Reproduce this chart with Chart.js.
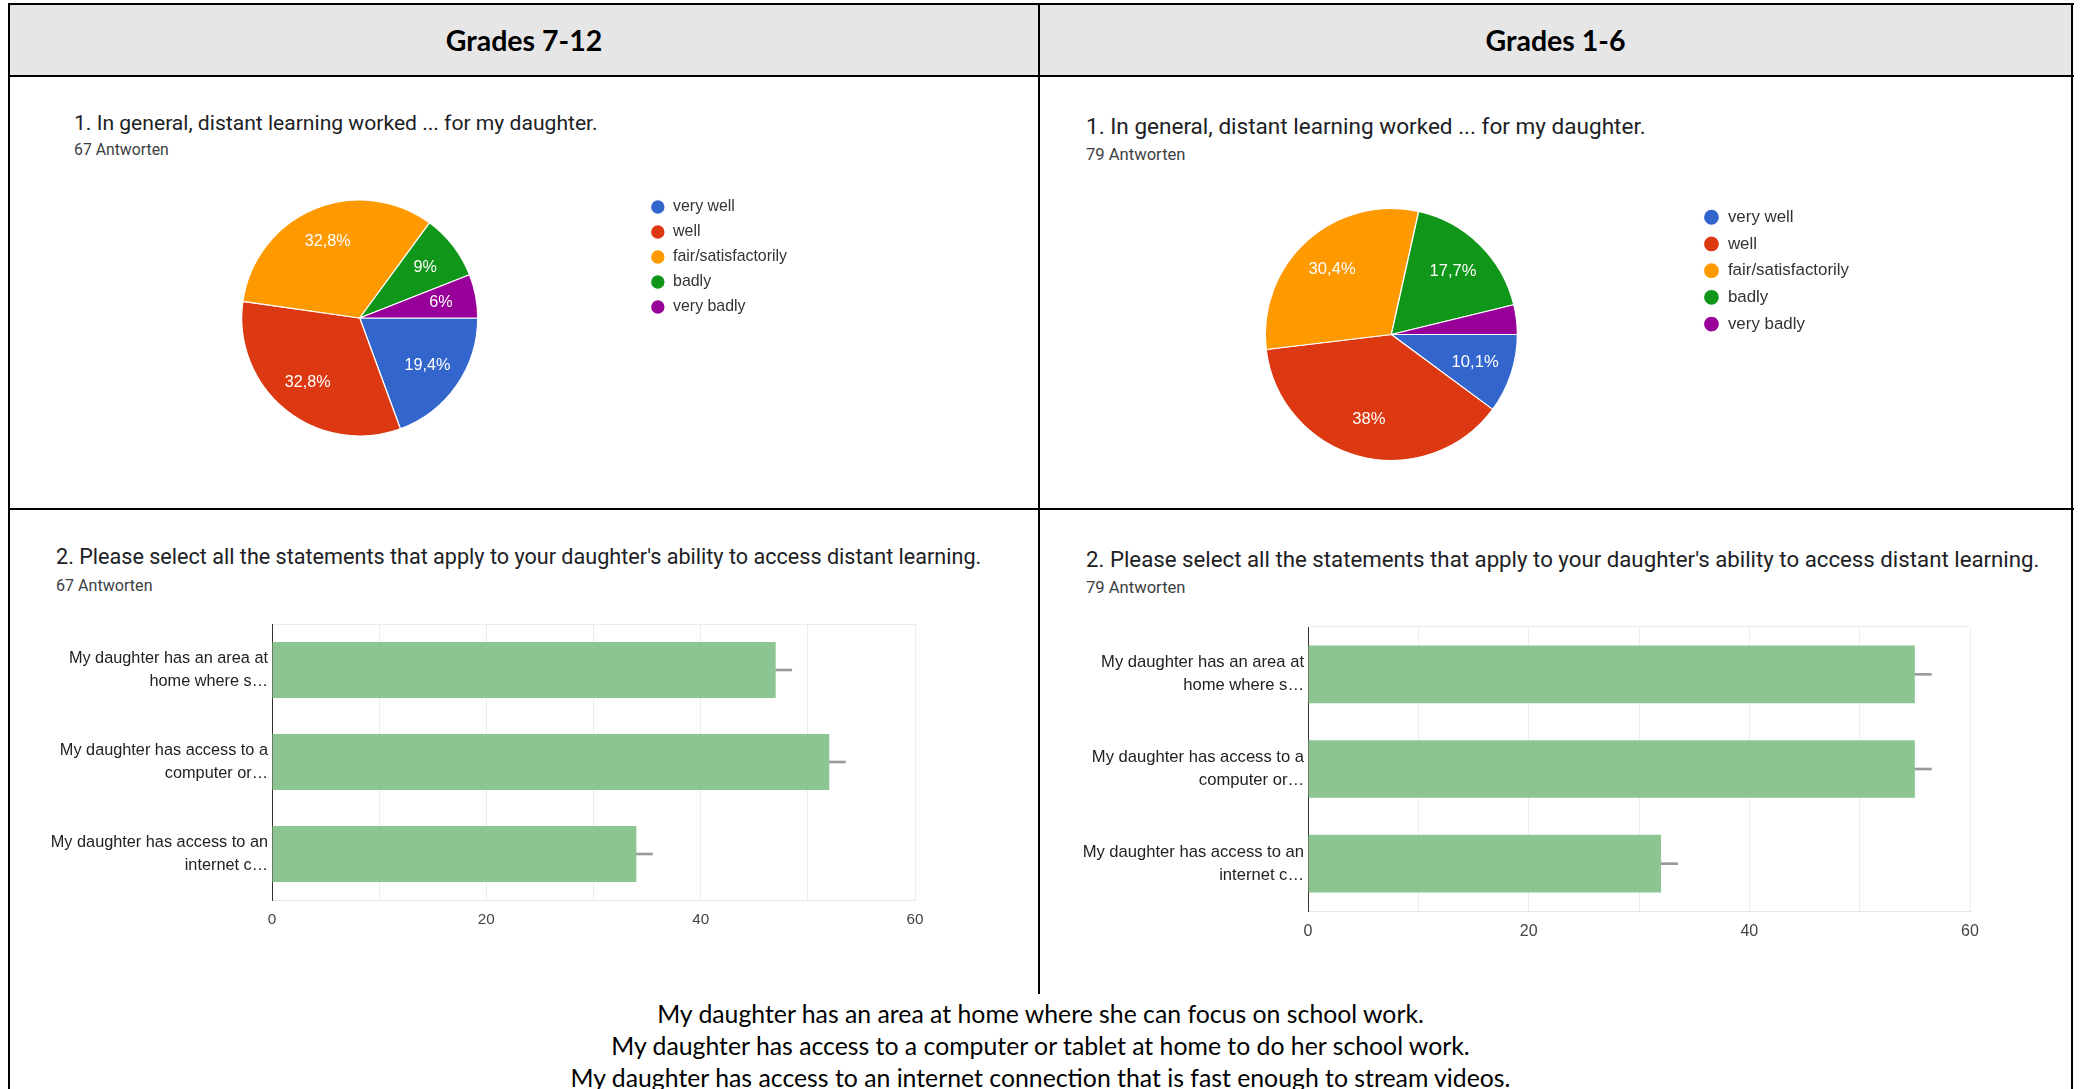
<!DOCTYPE html>
<html>
<head>
<meta charset="utf-8">
<script src="https://cdn.jsdelivr.net/npm/chart.js@4.4.1/dist/chart.umd.min.js"></script>
<style>
  body { margin: 0; background: #fff; }
  #page { position: relative; width: 2081px; height: 1089px; overflow: hidden; font-family: Roboto, sans-serif; }
  .line { position: absolute; background: #000; }
  .head { position: absolute; top: 5px; height: 70px; background: #e6e6e6; color: #000;
          font: bold 28.5px Lato, sans-serif; display: flex; align-items: center; justify-content: center; }
  .q { position: absolute; color: #202124; white-space: nowrap; line-height: 1; }
  .n { position: absolute; color: #3c4043; white-space: nowrap; line-height: 1; }
  .foot { position: absolute; left: 0; width: 2081px; text-align: center; font: 24.8px Lato, sans-serif; color: #000; line-height: 1; }
  canvas { position: absolute; }
</style>
</head>
<body>
<div id="page">
  <div class="head" style="left:10px; width:1028px;" id="headLeft"></div>
  <div class="head" style="left:1040px; width:1031px;" id="headRight"></div>

  <div class="line" style="left:8px; top:3px; width:2066px; height:2px;"></div>
  <div class="line" style="left:8px; top:3px; width:2px; height:1086px;"></div>
  <div class="line" style="left:2071px; top:3px; width:2px; height:1086px;"></div>
  <div class="line" style="left:8px; top:75px; width:2066px; height:2px;"></div>
  <div class="line" style="left:8px; top:508px; width:2066px; height:2px;"></div>
  <div class="line" style="left:1038px; top:3px; width:2px; height:991px;"></div>

  <div class="q" id="q1Left" style="left:74px; top:112px; font-size:21.1px;"></div>
  <div class="n" id="n1Left" style="left:74px; top:142px; font-size:15.8px;"></div>
  <div class="q" id="q1Right" style="left:1086px; top:116px; font-size:22.55px;"></div>
  <div class="n" id="n1Right" style="left:1086px; top:147px; font-size:16.6px;"></div>

  <div class="q" id="q2Left" style="left:56px; top:546px; font-size:21.6px;"></div>
  <div class="n" id="n2Left" style="left:56px; top:578px; font-size:16.1px;"></div>
  <div class="q" id="q2Right" style="left:1086px; top:548px; font-size:22.25px;"></div>
  <div class="n" id="n2Right" style="left:1086px; top:580px; font-size:16.6px;"></div>

  <canvas id="pieLeft"></canvas>
  <canvas id="pieRight"></canvas>
  <canvas id="barLeft"></canvas>
  <canvas id="barRight"></canvas>

  <div class="foot" id="foot0" style="top:1001.5px;"></div>
  <div class="foot" id="foot1" style="top:1033.5px;"></div>
  <div class="foot" id="foot2" style="top:1065.5px;"></div>
</div>

<script>
const groupTitles = ['Grades 7-12', 'Grades 1-6']
const question1 = '1. In general, distant learning worked ... for my daughter.'
const question2 = "2. Please select all the statements that apply to your daughter's ability to access distant learning."
const answerCounts = [67, 79] // senior, junior

const pieLabels = ['very well', 'well', 'fair/satisfactorily', 'badly', 'very badly']
const pieColors = ['#3366cc', '#dc3912', '#ff9900', '#109618', '#990099']
const pieSenior = [13, 22, 22, 6, 4]
const pieJunior = [8, 30, 24, 14, 3]

const barCategories = [
    ['My daughter has an area at', 'home where s…'],
    ['My daughter has access to a', 'computer or…'],
    ['My daughter has access to an', 'internet c…']
]
const barSenior = [47, 52, 34]
const barJunior = [55, 55, 32]
const whiskerValues = [1.5, 1.5, 1.5]
const xTicks = [0, 20, 40, 60]

const statements = [
    'My daughter has an area at home where she can focus on school work.',
    'My daughter has access to a computer or tablet at home to do her school work.',
    'My daughter has access to an internet connection that is fast enough to stream videos.'
]

document.getElementById('headLeft').textContent = groupTitles[0]
document.getElementById('headRight').textContent = groupTitles[1]
document.getElementById('q1Left').textContent = question1
document.getElementById('q1Right').textContent = question1
document.getElementById('q2Left').textContent = question2
document.getElementById('q2Right').textContent = question2
document.getElementById('n1Left').textContent = `${answerCounts[0]} Antworten`
document.getElementById('n2Left').textContent = `${answerCounts[0]} Antworten`
document.getElementById('n1Right').textContent = `${answerCounts[1]} Antworten`
document.getElementById('n2Right').textContent = `${answerCounts[1]} Antworten`
statements.forEach((s, i) => document.getElementById(`foot${i}`).textContent = s)

const chartFont = "'Liberation Sans', Arial, sans-serif"
Chart.defaults.font.family = chartFont
Chart.defaults.animation = false
Chart.defaults.events = []
Chart.defaults.plugins.tooltip.enabled = false

// percentage labels inside the slices (google hides the small ones)
const sliceLabels = {
    id: 'sliceLabels',
    afterDatasetsDraw(chart, args, opts) {
        const {ctx} = chart
        const values = chart.data.datasets[0].data
        const total = values.reduce((a, b) => a + b, 0)
        ctx.save()
        ctx.fillStyle = '#fff'
        ctx.font = `${opts.size}px ${chartFont}`
        ctx.textAlign = 'center'
        ctx.textBaseline = 'middle'
        chart.getDatasetMeta(0).data.forEach((arc, i) => {
            const pct = values[i] / total * 100
            if (pct < 5) return
            const p = arc.getProps(['x', 'y', 'startAngle', 'endAngle', 'outerRadius'])
            const mid = (p.startAngle + p.endAngle) / 2
            const r = p.outerRadius * 0.7
            const text = pct.toFixed(1).replace(/\.0$/, '').replace('.', ',') + '%'
            ctx.fillText(text, p.x + Math.cos(mid) * r, p.y + Math.sin(mid) * r)
        })
        ctx.restore()
    }
}

function makePie(id, counts, g) {
    const pad = g.gap - g.font
    const legendLeft = g.dotX - pad - g.dot / 2
    const top = g.dotY - pad - g.font / 2
    const left = 2 * g.cx - legendLeft

    const measure = document.createElement('canvas').getContext('2d')
    measure.font = `${g.font}px ${chartFont}`
    const textWidth = Math.max(...pieLabels.map(t => measure.measureText(t).width))
    const legendWidth = pad + g.dot + g.font / 2 + textWidth + 10

    const canvas = document.getElementById(id)
    canvas.width = Math.round(legendLeft + legendWidth - left)
    canvas.height = Math.round(2 * (g.cy - top))
    canvas.style.left = `${left}px`
    canvas.style.top = `${top}px`

    new Chart(canvas, {
        type: 'pie',
        data: {
            labels: pieLabels,
            datasets: [{
                data: counts,
                backgroundColor: pieColors,
                borderColor: '#fff',
                borderWidth: 1.2,
                radius: g.r
            }]
        },
        options: {
            responsive: false,
            rotation: 90,
            layout: { padding: 0 },
            plugins: {
                legend: {
                    position: 'right',
                    align: 'start',
                    labels: {
                        usePointStyle: true,
                        pointStyle: 'circle',
                        boxHeight: g.dot / Math.SQRT2,
                        pointStyleWidth: g.dot,
                        padding: pad,
                        color: '#333',
                        font: { size: g.font }
                    }
                },
                sliceLabels: { size: g.labelSize }
            }
        },
        plugins: [sliceLabels]
    })
}

function makeBar(id, values, g) {
    const canvas = document.getElementById(id)
    const padTop = 40
    const x0 = g.left - g.axisWidth
    const y0 = g.top - padTop
    canvas.width = g.right + 30 - x0
    canvas.height = g.bottom + 50 - y0
    canvas.style.left = `${x0}px`
    canvas.style.top = `${y0}px`

    new Chart(canvas, {
        type: 'bar',
        data: {
            labels: barCategories,
            datasets: [
                { data: values, backgroundColor: '#8cc591', barPercentage: 0.61, categoryPercentage: 1 },
                { data: whiskerValues, backgroundColor: '#9a9a9a', barThickness: 2 }
            ]
        },
        options: {
            indexAxis: 'y',
            responsive: false,
            layout: { padding: { top: padTop, right: 30, left: 0, bottom: 0 } },
            plugins: { legend: { display: false } },
            scales: {
                x: {
                    stacked: true,
                    min: 0,
                    max: 60,
                    afterFit: scale => { scale.height = 50 },
                    grid: {
                        drawTicks: false,
                        color: c => (c.tick && c.tick.value === 0) ? '#333' : '#ececec'
                    },
                    border: { color: '#e6e6e6' },
                    ticks: {
                        stepSize: 10,
                        padding: g.tickPad,
                        color: '#444',
                        font: { size: g.tickSize },
                        callback: v => xTicks.includes(v) ? v : ''
                    }
                },
                y: {
                    stacked: true,
                    afterFit: scale => { scale.width = g.axisWidth },
                    grid: {
                        drawTicks: false,
                        color: c => (c.index === 0 || c.index === barCategories.length) ? '#ececec' : 'rgba(0,0,0,0)'
                    },
                    border: { color: '#333' },
                    ticks: {
                        padding: 4,
                        color: '#222',
                        font: { size: g.labelSize, lineHeight: 1.38 }
                    }
                }
            }
        }
    })
}

window.onload = () => {
    makePie('pieLeft', pieSenior, { cx: 360, cy: 318, r: 118, dotX: 658, dotY: 207, font: 15.9, gap: 25, dot: 14.6, labelSize: 16.2 })
    makePie('pieRight', pieJunior, { cx: 1391, cy: 334, r: 126, dotX: 1711, dotY: 217, font: 16.9, gap: 26.7, dot: 16, labelSize: 16.6 })
    makeBar('barLeft', barSenior, { left: 272, top: 624, right: 915, bottom: 900, axisWidth: 252, tickSize: 15.3, tickPad: 11, labelSize: 16.3 })
    makeBar('barRight', barJunior, { left: 1308, top: 627, right: 1970, bottom: 911, axisWidth: 258, tickSize: 16, tickPad: 11, labelSize: 16.6 })
}
</script>
</body>
</html>
